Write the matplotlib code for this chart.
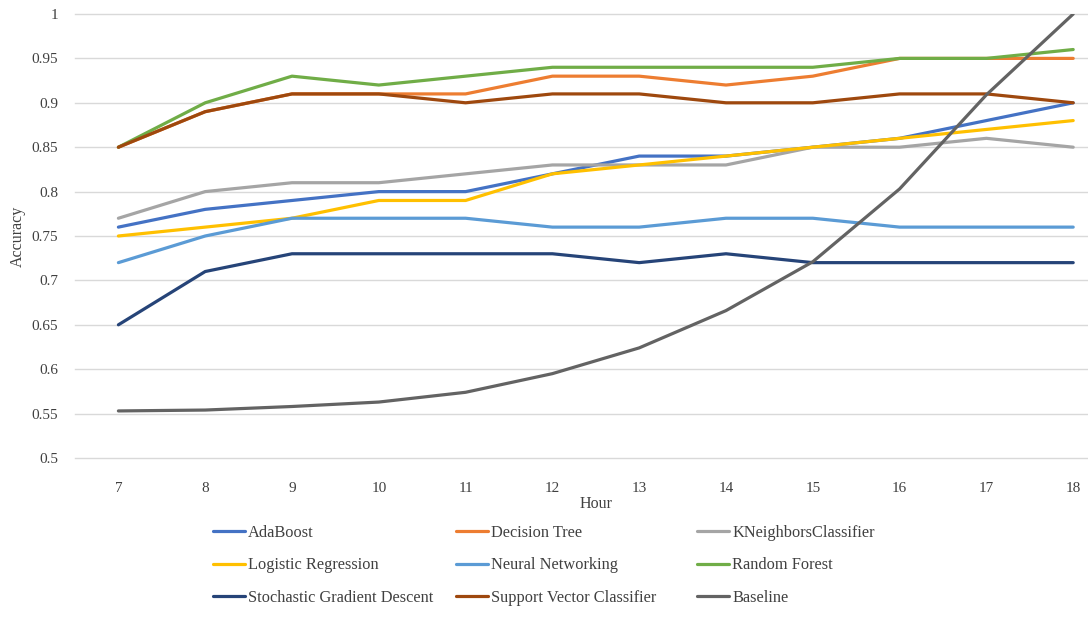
import matplotlib
matplotlib.use("Agg")
import matplotlib.pyplot as plt

plt.rcParams['font.family'] = ['Liberation Serif', 'DejaVu Serif']

# data
hours = [7, 8, 9, 10, 11, 12, 13, 14, 15, 16, 17, 18]
adaboost = [0.76, 0.78, 0.79, 0.80, 0.80, 0.82, 0.84, 0.84, 0.85, 0.86, 0.88, 0.90]
decision_tree = [0.85, 0.89, 0.91, 0.91, 0.91, 0.93, 0.93, 0.92, 0.93, 0.95, 0.95, 0.95]
kneighbors = [0.77, 0.80, 0.81, 0.81, 0.82, 0.83, 0.83, 0.83, 0.85, 0.85, 0.86, 0.85]
logistic = [0.75, 0.76, 0.77, 0.79, 0.79, 0.82, 0.83, 0.84, 0.85, 0.86, 0.87, 0.88]
neural = [0.72, 0.75, 0.77, 0.77, 0.77, 0.76, 0.76, 0.77, 0.77, 0.76, 0.76, 0.76]
random_forest = [0.85, 0.90, 0.93, 0.92, 0.93, 0.94, 0.94, 0.94, 0.94, 0.95, 0.95, 0.96]
sgd = [0.65, 0.71, 0.73, 0.73, 0.73, 0.73, 0.72, 0.73, 0.72, 0.72, 0.72, 0.72]
svc = [0.85, 0.89, 0.91, 0.91, 0.90, 0.91, 0.91, 0.90, 0.90, 0.91, 0.91, 0.90]
baseline = [0.553, 0.554, 0.558, 0.563, 0.574, 0.595, 0.624, 0.666, 0.721, 0.803, 0.909, 1.0]

# drawing order = legend order (row-major, 3 columns)
series = [
    ("AdaBoost", adaboost, "#4472C4"),
    ("Decision Tree", decision_tree, "#ED7D31"),
    ("KNeighborsClassifier", kneighbors, "#A5A5A5"),
    ("Logistic Regression", logistic, "#FFC000"),
    ("Neural Networking", neural, "#5B9BD5"),
    ("Random Forest", random_forest, "#70AD47"),
    ("Stochastic Gradient Descent", sgd, "#264478"),
    ("Support Vector Classifier", svc, "#9E480E"),
    ("Baseline", baseline, "#636363"),
]

fig = plt.figure(figsize=(10.88, 6.3), dpi=100)
ax = fig.add_axes([75 / 1088, 1 - 458 / 630, 1041.6 / 1088, 444 / 630])

lines = []
for name, vals, col in series:
    ln, = ax.plot(hours, vals, color=col, linewidth=2.3, label=name, solid_capstyle='round')
    lines.append(ln)

ax.set_xlim(6.5, 18.5)
ax.set_ylim(0.5, 1.0)
ax.set_xticks(hours)
ax.set_yticks([0.5, 0.55, 0.6, 0.65, 0.7, 0.75, 0.8, 0.85, 0.9, 0.95, 1.0])
ax.set_yticklabels(['0.5', '0.55', '0.6', '0.65', '0.7', '0.75', '0.8', '0.85', '0.9', '0.95', '1'])
ax.tick_params(length=0, labelsize=11, colors='#404040', pad=17)
ax.tick_params(axis='y', pad=12)
ax.grid(axis='y', color='#D9D9D9', linewidth=1)
for gl in ax.get_ygridlines():
    gl.set_clip_on(False)
ax.set_axisbelow(True)
for s in ax.spines.values():
    s.set_visible(False)

ax.set_xlabel('Hour', fontsize=11.5, color='#404040', labelpad=1)
fig.text(18 / 1088, 1 - 236 / 630, 'Accuracy', rotation=90, fontsize=11.5,
         color='#404040', ha='center', va='center')

# three legend columns with equal spacing, like the original
col_x = [213, 456, 697]
for c in range(3):
    handles = [lines[c + 3 * r] for r in range(3)]
    leg = fig.legend(handles=handles, loc='upper left',
                     bbox_to_anchor=(col_x[c] / 1088, 1 - 525 / 630),
                     frameon=False, fontsize=11.8, handlelength=1.95,
                     handletextpad=0.2, labelspacing=1.0, borderpad=0,
                     borderaxespad=0)
    for t in leg.get_texts():
        t.set_color('#404040')

fig.savefig('out.png', dpi=100)
